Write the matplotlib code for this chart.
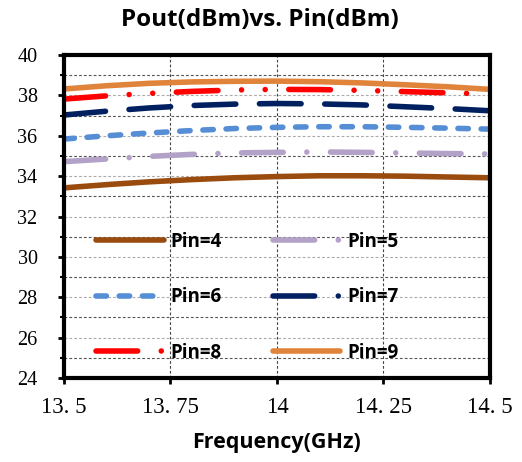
import matplotlib
matplotlib.use("Agg")
import matplotlib.pyplot as plt
from matplotlib.ticker import MultipleLocator
from matplotlib.lines import Line2D

plt.rcParams["lines.scale_dashes"] = False

freq = [13.5, 13.6, 13.7, 13.8, 13.9, 14.0, 14.1, 14.2, 14.3, 14.4, 14.5]
pin4 = [33.42, 33.58, 33.72, 33.83, 33.92, 33.98, 34.02, 34.02, 34.00, 33.96, 33.92]
pin5 = [34.72, 34.85, 34.98, 35.08, 35.15, 35.18, 35.20, 35.18, 35.15, 35.12, 35.10]
pin6 = [35.84, 36.00, 36.14, 36.26, 36.36, 36.42, 36.45, 36.45, 36.42, 36.38, 36.33]
pin7 = [37.03, 37.22, 37.38, 37.50, 37.57, 37.60, 37.58, 37.53, 37.44, 37.35, 37.24]
pin8 = [37.82, 37.98, 38.10, 38.20, 38.27, 38.30, 38.29, 38.25, 38.19, 38.13, 38.07]
pin9 = [38.32, 38.48, 38.60, 38.67, 38.70, 38.71, 38.68, 38.62, 38.53, 38.43, 38.30]

labels = ["Pin=4", "Pin=5", "Pin=6", "Pin=7", "Pin=8", "Pin=9"]
series = [pin4, pin5, pin6, pin7, pin8, pin9]
colors = ["#9A4B0E", "#B3A2C7", "#558ED5", "#002060", "#FF0000", "#E0843C"]

long_dash_dot = (0, (30, 17, 0.01, 17))
long_dash_dot_dot = (0, (30, 17, 0.01, 17, 0.01, 17))
long_dash = (0, (30, 17))
short_dash = (0, (7.5, 9.2))
plot_styles = ["-", long_dash_dot, short_dash, long_dash, long_dash_dot_dot, "-"]
legend_styles = ["-", long_dash_dot, short_dash, long_dash_dot, long_dash_dot_dot, "-"]
xticklabels = ["13. 5", "13. 75", "14", "14. 25", "14. 5"]

fig = plt.figure(figsize=(5.22, 4.62), dpi=100)
ax = fig.add_axes([0.1226, 0.1818, 0.816, 0.699])

LW = 4
for y, c, ls in zip(series, colors, plot_styles):
    ax.plot(freq, y, color=c, lw=LW, linestyle=ls, solid_capstyle="round",
            dash_capstyle="round")

ax.set_xlim(13.5, 14.5)
ax.set_ylim(24, 40)
ax.set_xticks([13.5, 13.75, 14.0, 14.25, 14.5])
ax.set_xticklabels(xticklabels, fontfamily="Liberation Serif", fontsize=16.5)
ax.yaxis.set_major_locator(MultipleLocator(2))
ax.yaxis.set_minor_locator(MultipleLocator(1))
for t in ax.get_yticklabels():
    t.set_fontfamily("Liberation Serif")
    t.set_fontsize(14.5)
ax.tick_params(axis="both", which="major", direction="out", length=4, width=2, color="black")
ax.tick_params(axis="y", which="minor", direction="out", length=3, width=1.5)
ax.tick_params(axis="y", pad=15)
ax.tick_params(axis="x", pad=10)

ax.grid(True, axis="x", which="major", linestyle=(0, (2, 1.5)), color="#444444", lw=0.8)
ax.grid(True, axis="y", which="major", linestyle=(0, (2, 1.5)), color="#AAAAAA", lw=0.8)
ax.grid(True, axis="y", which="minor", linestyle=(0, (2, 1.5)), color="#555555", lw=0.8)
ax.set_axisbelow(True)

for s in ax.spines.values():
    s.set_linewidth(3)
    s.set_color("black")

fig.text(260 / 522, 1 - 20 / 462, "Pout(dBm)vs. Pin(dBm)", fontsize=17.5, fontweight="bold",
         fontfamily="Open Sans", ha="center", va="center")
ax.set_xlabel("Frequency(GHz)", fontsize=15.5, fontweight="bold", fontfamily="Open Sans", labelpad=10)

handles = [Line2D([], [], color=c, lw=LW, linestyle=ls, solid_capstyle="round",
                  dash_capstyle="round") for c, ls in zip(colors, legend_styles)]
order = [0, 2, 4, 1, 3, 5]
leg = ax.legend([handles[i] for i in order], [labels[i] for i in order],
                ncol=2, loc="lower left", bbox_to_anchor=(0.04, 0.0), frameon=False,
                borderpad=0.3,
                handlelength=3.6, columnspacing=2.75, labelspacing=1.9, handletextpad=0.35,
                prop={"family": "Open Sans", "weight": "bold", "size": 13.5})

fig.savefig("out.png", dpi=100)
